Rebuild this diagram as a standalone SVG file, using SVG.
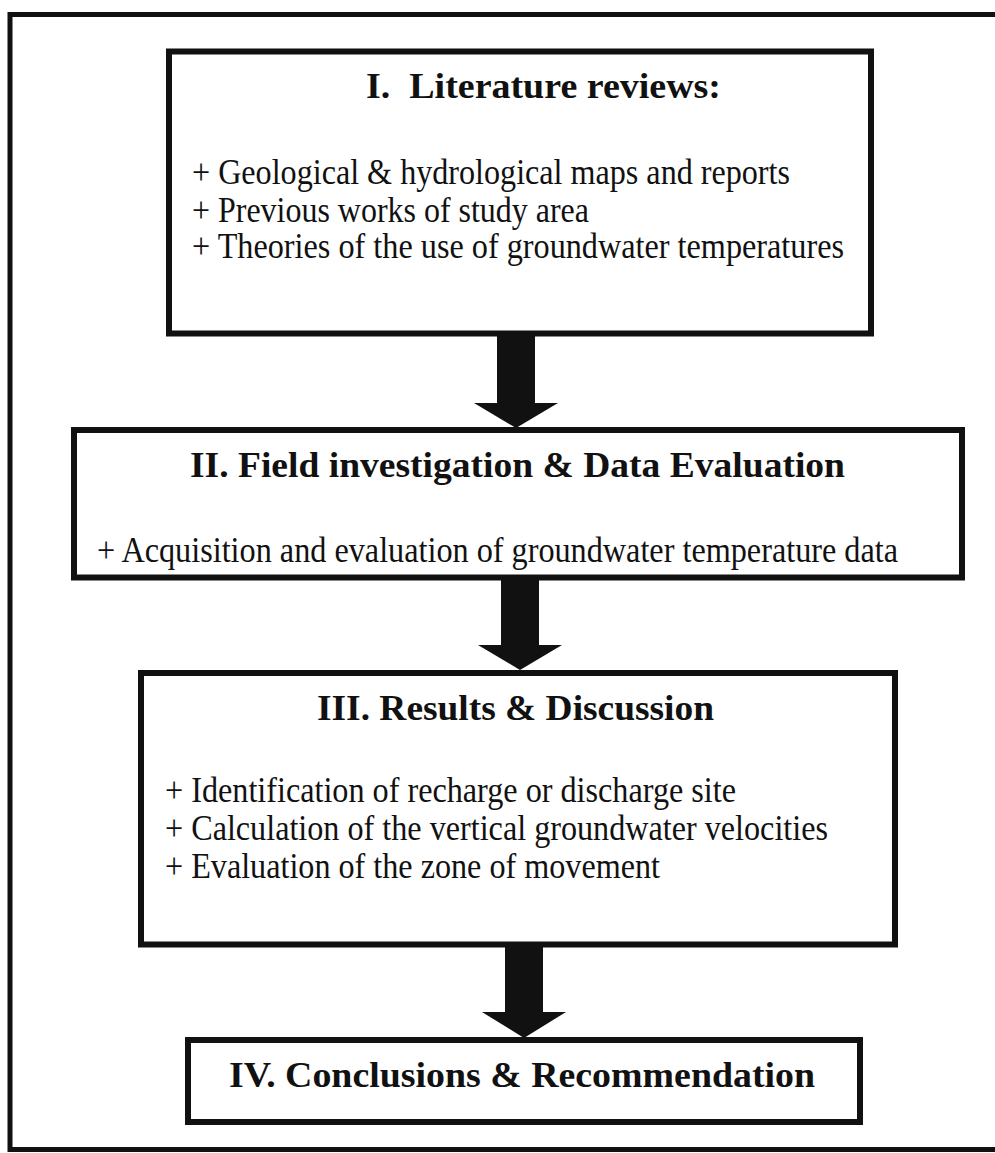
<svg xmlns="http://www.w3.org/2000/svg" width="995" height="1153" viewBox="0 0 995 1153">
<style>
.box{fill:#fff;stroke:#111;stroke-width:6}
.t{font-family:"Liberation Serif","Times New Roman",serif;font-weight:bold;font-size:36px;fill:#111;white-space:pre}
.b{font-family:"Liberation Serif","Times New Roman",serif;font-size:35px;fill:#111}
.arr{fill:#111}
</style>
<rect x="0" y="0" width="995" height="1153" fill="#fff"/>
<path d="M1000,14.5 H10 V1149.5 H1000" fill="none" stroke="#111" stroke-width="5"/>
<g id="connectors">
<polygon class="arr" points="497,334 535,334 535,403 558,403 516,428 474,403 497,403"/>
<polygon class="arr" points="501,579 539,579 539,645 562,645 520,670 478,645 501,645"/>
<polygon class="arr" points="505,946 543,946 543,1012 566,1012 524,1038 482,1012 505,1012"/>
</g>
<g id="node1">
<rect class="box" x="169" y="51.5" width="702" height="282"/>
<text class="t" x="366" y="98" textLength="355" lengthAdjust="spacingAndGlyphs">I.  Literature reviews:</text>
<text class="b" x="192" y="184" textLength="598" lengthAdjust="spacingAndGlyphs">+ Geological &amp; hydrological maps and reports</text>
<text class="b" x="192" y="222" textLength="397" lengthAdjust="spacingAndGlyphs">+ Previous works of study area</text>
<text class="b" x="192" y="258" textLength="652" lengthAdjust="spacingAndGlyphs">+ Theories of the use of groundwater temperatures</text>
</g>
<g id="node2">
<rect class="box" x="74" y="430" width="888" height="147.5"/>
<text class="t" x="190" y="477" textLength="655" lengthAdjust="spacingAndGlyphs">II. Field investigation &amp; Data Evaluation</text>
<text class="b" x="97" y="562" textLength="801" lengthAdjust="spacingAndGlyphs">+ Acquisition and evaluation of groundwater temperature data</text>
</g>
<g id="node3">
<rect class="box" x="141" y="673" width="754" height="271.5"/>
<text class="t" x="317" y="720" textLength="397" lengthAdjust="spacingAndGlyphs">III. Results &amp; Discussion</text>
<text class="b" x="165" y="802" textLength="571" lengthAdjust="spacingAndGlyphs">+ Identification of recharge or discharge site</text>
<text class="b" x="165" y="840" textLength="663" lengthAdjust="spacingAndGlyphs">+ Calculation of the vertical groundwater velocities</text>
<text class="b" x="165" y="878" textLength="495" lengthAdjust="spacingAndGlyphs">+ Evaluation of the zone of movement</text>
</g>
<g id="node4">
<rect class="box" x="188" y="1040" width="672" height="82"/>
<text class="t" x="229" y="1087" textLength="586" lengthAdjust="spacingAndGlyphs">IV. Conclusions &amp; Recommendation</text>
</g>
</svg>
